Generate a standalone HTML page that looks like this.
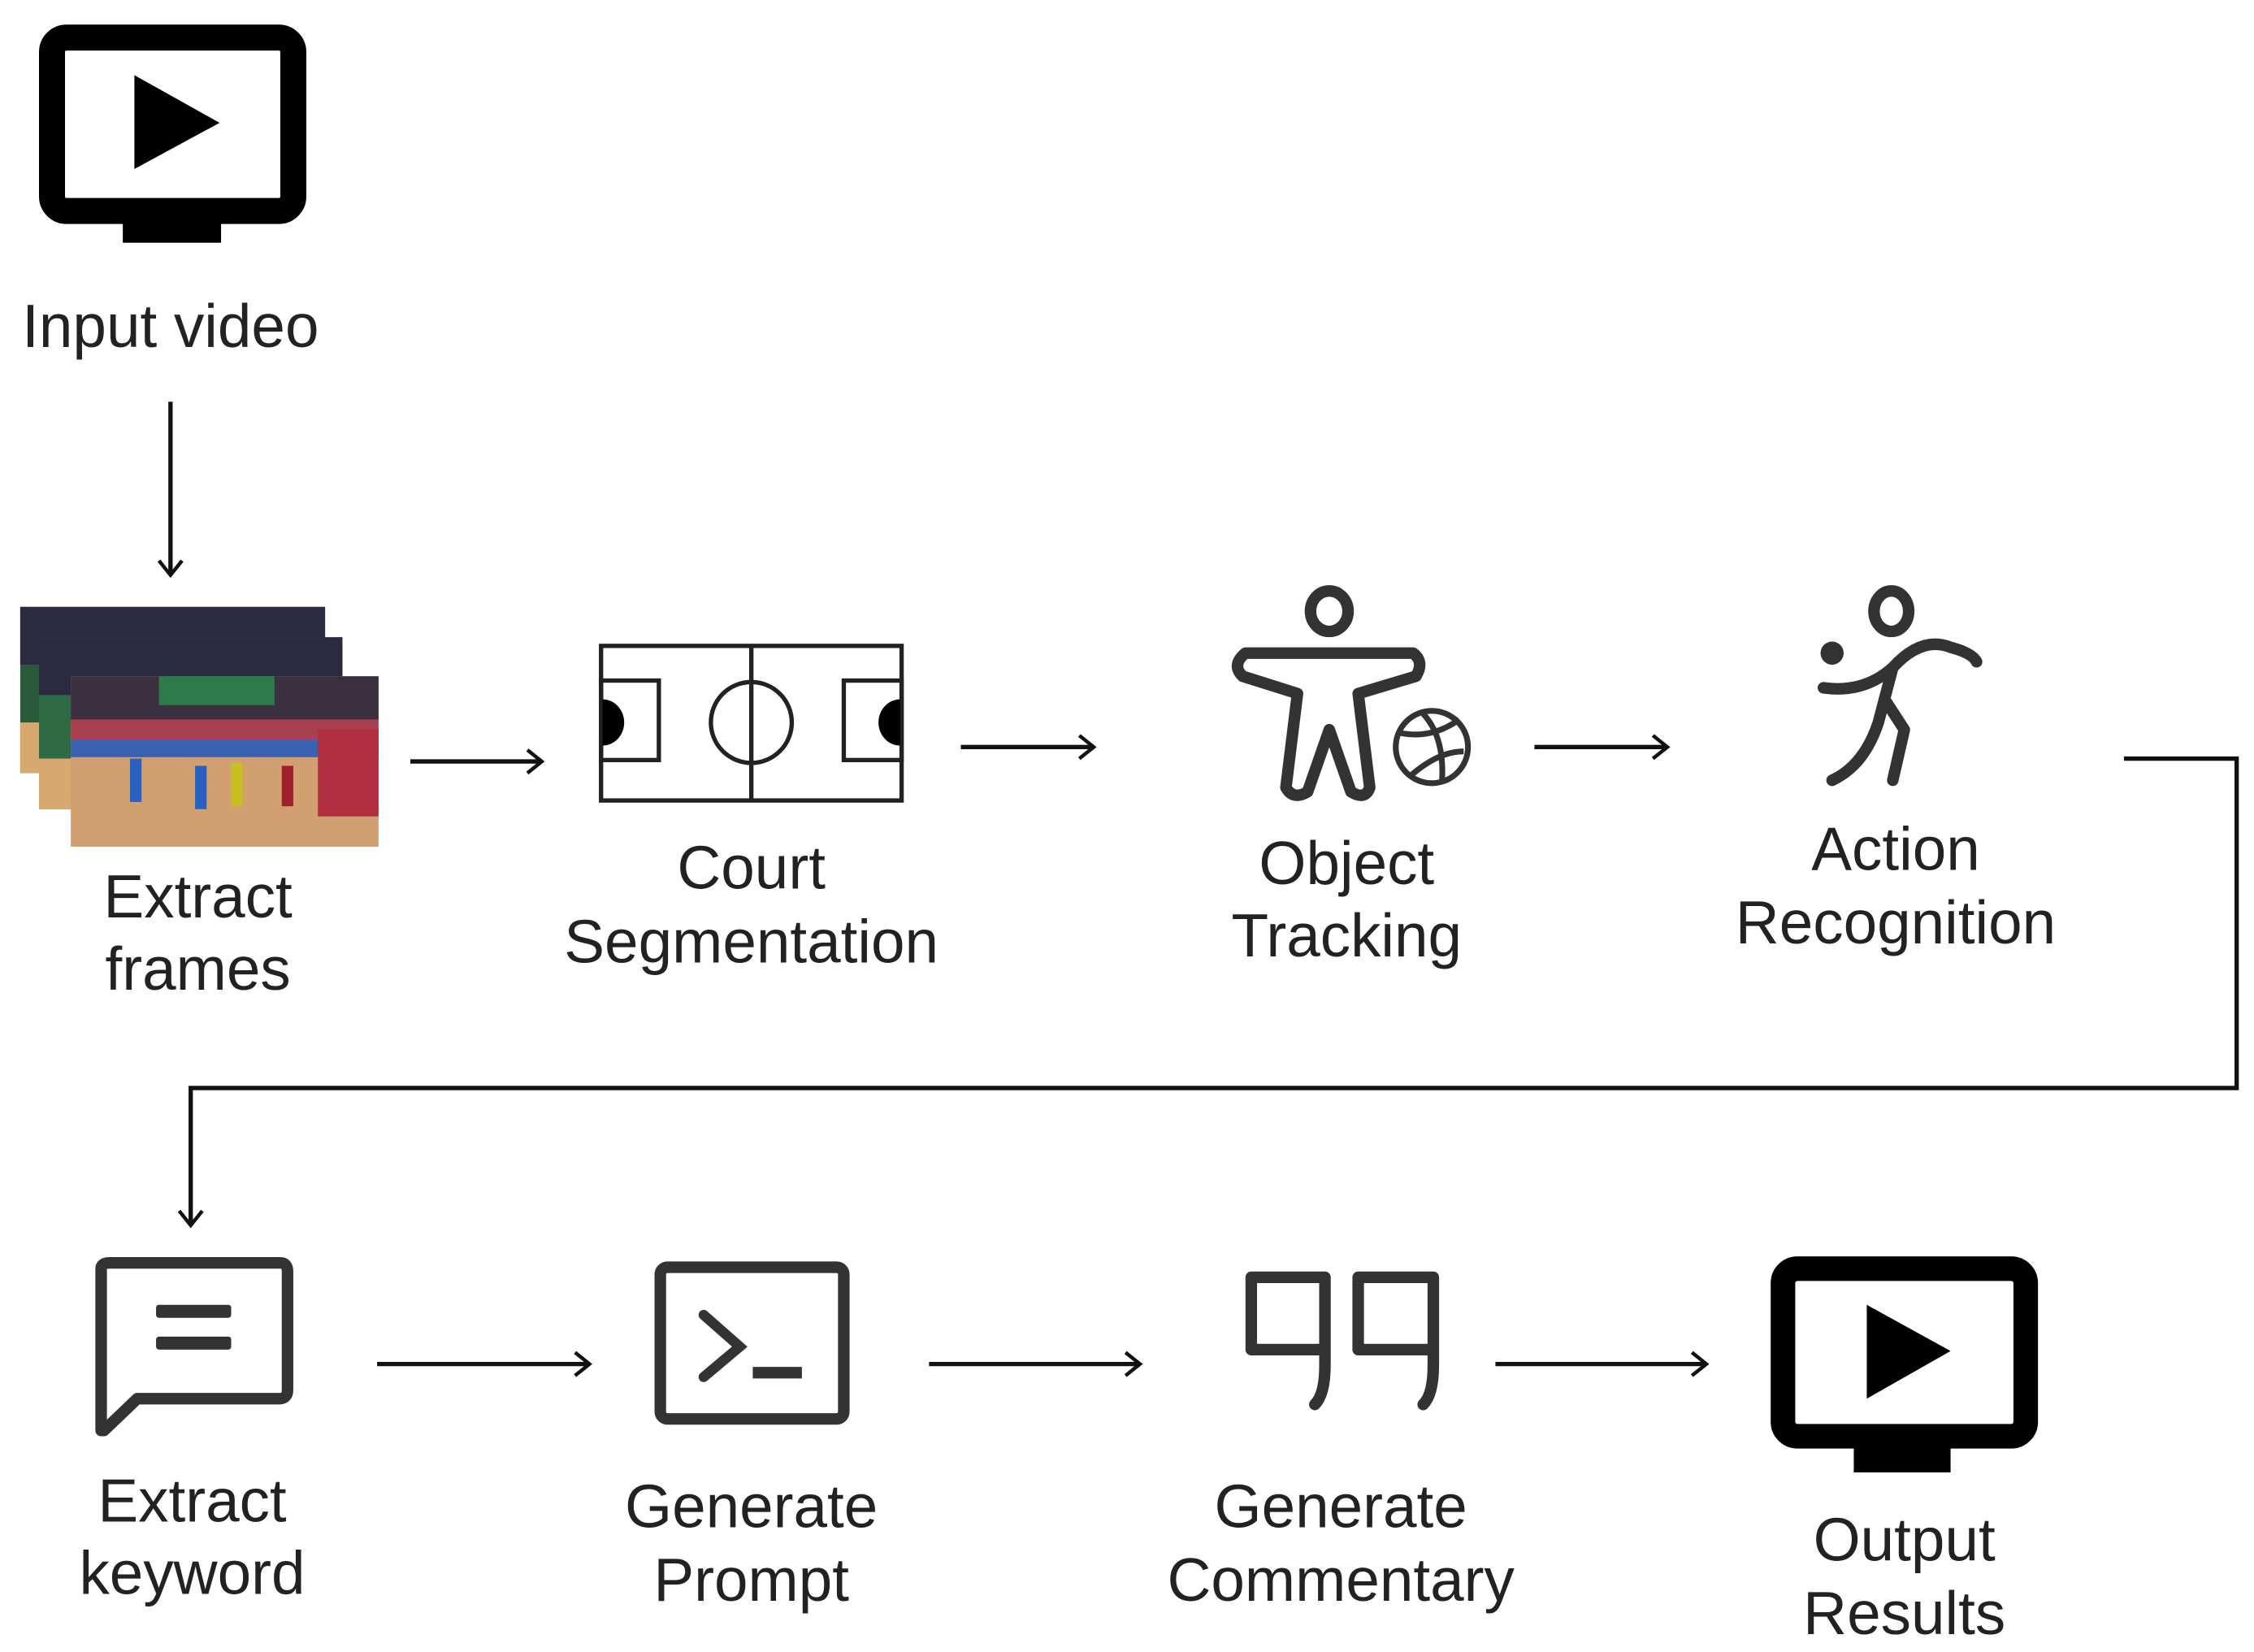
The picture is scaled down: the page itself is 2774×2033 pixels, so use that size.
<!DOCTYPE html>
<html><head><meta charset="utf-8"><style>
html,body{margin:0;padding:0;background:#fff;}
svg{display:block;}
text{font-family:"Liberation Sans",sans-serif;font-size:42px;fill:#222;text-anchor:middle;}
</style></head><body>
<svg width="2774" height="2033" viewBox="0 0 1560 1143.3" preserveAspectRatio="none" xmlns="http://www.w3.org/2000/svg">
<defs>
<marker id="ah" markerWidth="20" markerHeight="20" refX="12" refY="10" orient="auto" markerUnits="userSpaceOnUse">
<path d="M2,2 L12,10 L2,18" fill="none" stroke="#111" stroke-width="2.5"/>
</marker>
</defs>
<rect x="36" y="26" width="167" height="120" rx="10" fill="#fff" stroke="#000" stroke-width="18"/>
<rect x="85" y="148" width="68" height="20" fill="#000"/>
<polygon points="93,52 93,117 152,85" fill="#000"/>
<text x="118" y="240">Input video</text>
<line x1="118" y1="278" x2="118" y2="398" stroke="#111" stroke-width="3" marker-end="url(#ah)"/>
<g>
<rect x="14" y="420" width="211" height="115" fill="#2a5a3a"/>
<rect x="14" y="420" width="211" height="40" fill="#2b2a40"/>
<rect x="14" y="500" width="211" height="35" fill="#d9a870"/>
<rect x="27" y="441" width="210" height="119" fill="#2f6a45"/>
<rect x="27" y="441" width="210" height="40" fill="#2b2a40"/>
<rect x="27" y="525" width="210" height="35" fill="#d9a870"/>
<rect x="49" y="468" width="213" height="118" fill="#d2a070"/>
<rect x="49" y="468" width="213" height="30" fill="#3a3040"/>
<rect x="110" y="468" width="80" height="20" fill="#2f7a4a"/>
<rect x="49" y="498" width="213" height="14" fill="#a84050"/>
<rect x="49" y="512" width="213" height="12" fill="#3a60b0"/>
<rect x="220" y="505" width="42" height="60" fill="#b03040"/>
<rect x="90" y="525" width="8" height="30" fill="#2a60c0"/>
<rect x="135" y="530" width="8" height="30" fill="#2a60c0"/>
<rect x="160" y="528" width="8" height="30" fill="#c8c020"/>
<rect x="195" y="530" width="8" height="28" fill="#a02030"/>
</g>
<text x="137" y="635">Extract</text>
<text x="137" y="685">frames</text>
<line x1="284" y1="527" x2="375" y2="527" stroke="#111" stroke-width="3" marker-end="url(#ah)"/>
<g fill="none" stroke="#222" stroke-width="3">
<rect x="416" y="447" width="208" height="107"/>
<line x1="520" y1="447" x2="520" y2="554"/>
<circle cx="520" cy="500" r="28"/>
<rect x="416" y="471" width="40" height="55"/>
<rect x="584" y="471" width="40" height="55"/>
</g>
<path d="M417,484 A15,16 0 0 1 417,516 Z" fill="#000"/>
<path d="M623,484 A15,16 0 0 0 623,516 Z" fill="#000"/>
<text x="520" y="615">Court</text>
<text x="520" y="666">Segmentation</text>
<line x1="665" y1="517" x2="757" y2="517" stroke="#111" stroke-width="3" marker-end="url(#ah)"/>
<g fill="none" stroke="#333" stroke-width="8" stroke-linejoin="round" stroke-linecap="round">
<ellipse cx="920" cy="423" rx="13" ry="14"/>
<path d="M862,452 L978,452 Q986,458 980,468 L940,480 L948,545 Q945,554 935,548 L920,505 L905,548 Q895,554 890,545 L898,480 L860,468 Q852,460 862,452 Z"/>
</g>
<g fill="none" stroke="#333" stroke-width="4">
<circle cx="991" cy="517" r="25"/>
<path d="M968,507 Q990,512 1010,498 M975,538 Q995,520 1013,520 M985,494 Q1000,510 998,541"/>
</g>
<text x="932" y="612">Object</text>
<text x="932" y="662">Tracking</text>
<line x1="1062" y1="517" x2="1154" y2="517" stroke="#111" stroke-width="3" marker-end="url(#ah)"/>
<g fill="none" stroke="#333" stroke-width="8" stroke-linecap="round" stroke-linejoin="round">
<ellipse cx="1309" cy="423" rx="12" ry="14"/>
<path d="M1262,476 Q1290,480 1310,462 Q1330,440 1350,448 Q1365,452 1368,458"/>
<path d="M1310,462 L1300,500 Q1290,530 1268,540"/>
<path d="M1305,485 L1318,505 L1310,540"/>
</g>
<circle cx="1268" cy="452" r="8" fill="#333"/>
<text x="1312" y="602">Action</text>
<text x="1312" y="653">Recognition</text>
<polyline points="1470,525 1548,525 1548,753 132,753 132,848" fill="none" stroke="#111" stroke-width="3" marker-end="url(#ah)"/>
<path d="M70,878 Q70,874 76,874 L194,874 Q199,874 199,880 L199,962 Q199,968 193,968 L95,968 L72,990 L70,990 Z" fill="none" stroke="#333" stroke-width="8" stroke-linejoin="round"/>
<rect x="108" y="903" width="52" height="9" rx="2" fill="#333"/>
<rect x="108" y="925" width="52" height="9" rx="2" fill="#333"/>
<text x="133" y="1053">Extract</text>
<text x="133" y="1103">keyword</text>
<line x1="261" y1="944" x2="408" y2="944" stroke="#111" stroke-width="3" marker-end="url(#ah)"/>
<rect x="457" y="877" width="127" height="105" rx="5" fill="none" stroke="#333" stroke-width="8"/>
<path d="M487,910 L512,932 L487,953" fill="none" stroke="#333" stroke-width="7" stroke-linecap="round"/>
<rect x="521" y="946" width="34" height="8" fill="#333"/>
<text x="520" y="1057">Generate</text>
<text x="520" y="1108">Prompt</text>
<line x1="643" y1="944" x2="789" y2="944" stroke="#111" stroke-width="3" marker-end="url(#ah)"/>
<g fill="none" stroke="#333" stroke-width="8" stroke-linecap="round" stroke-linejoin="round">
<path d="M917,934 L866,934 L866,884 L917,884 L917,945 Q917,965 910,972"/>
<path d="M992,934 L940,934 L940,884 L992,884 L992,945 Q992,965 985,972"/>
</g>
<text x="928" y="1057">Generate</text>
<text x="928" y="1108">Commentary</text>
<line x1="1035" y1="944" x2="1181" y2="944" stroke="#111" stroke-width="3" marker-end="url(#ah)"/>
<rect x="1234" y="878" width="168" height="116" rx="10" fill="#fff" stroke="#000" stroke-width="17"/>
<rect x="1283" y="997" width="67" height="22" fill="#000"/>
<polygon points="1292,903 1292,968 1350,935" fill="#000"/>
<text x="1318" y="1080">Output</text>
<text x="1318" y="1131">Results</text>
</svg>
</body></html>
